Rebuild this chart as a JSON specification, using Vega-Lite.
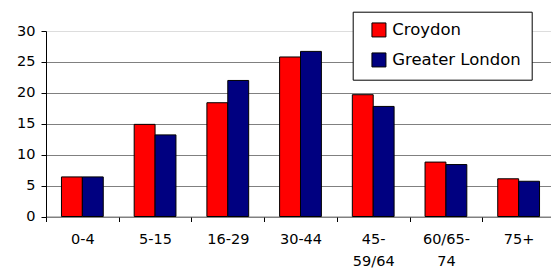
{
  "$schema": "https://vega.github.io/schema/vega-lite/v6.json",
  "autosize": {"type": "none"},
  "padding": {"left": 46, "top": 31, "right": 0, "bottom": 55},
  "width": 509,
  "height": 185.5,
  "background": "white",
  "config": {
    "font": "DejaVu Sans",
    "view": {"stroke": null}
  },
  "data": {
    "values": [
      {"age": "0-4", "area": "Croydon", "pct": 6.4},
      {"age": "0-4", "area": "Greater London", "pct": 6.4},
      {"age": "5-15", "area": "Croydon", "pct": 14.9},
      {"age": "5-15", "area": "Greater London", "pct": 13.2},
      {"age": "16-29", "area": "Croydon", "pct": 18.4},
      {"age": "16-29", "area": "Greater London", "pct": 22.0},
      {"age": "30-44", "area": "Croydon", "pct": 25.8},
      {"age": "30-44", "area": "Greater London", "pct": 26.7},
      {"age": "45-59/64", "area": "Croydon", "pct": 19.7},
      {"age": "45-59/64", "area": "Greater London", "pct": 17.8},
      {"age": "60/65-74", "area": "Croydon", "pct": 8.8},
      {"age": "60/65-74", "area": "Greater London", "pct": 8.4},
      {"age": "75+", "area": "Croydon", "pct": 6.1},
      {"age": "75+", "area": "Greater London", "pct": 5.7}
    ]
  },
  "mark": {"type": "bar", "stroke": "black", "strokeWidth": 1},
  "encoding": {
    "x": {
      "field": "age",
      "type": "nominal",
      "sort": ["0-4", "5-15", "16-29", "30-44", "45-59/64", "60/65-74", "75+"],
      "scale": {"paddingInner": 0, "paddingOuter": 0},
      "axis": {
        "title": null,
        "labelAngle": 0,
        "tickBand": "extent",
        "tickSize": 5,
        "tickColor": "black",
        "domainColor": "#808080",
        "labelFontSize": 14.5,
        "labelColor": "black",
        "labelPadding": 11,
        "labelLineHeight": 22,
        "labelBaseline": "top",
        "labelExpr": "datum.value == '45-59/64' ? ['45-', '59/64'] : datum.value == '60/65-74' ? ['60/65-', '74'] : datum.label"
      }
    },
    "xOffset": {
      "field": "area",
      "sort": ["Croydon", "Greater London"],
      "scale": {"paddingInner": 0, "paddingOuter": 0.74}
    },
    "y": {
      "field": "pct",
      "type": "quantitative",
      "scale": {"domain": [0, 30], "nice": false},
      "axis": {
        "title": null,
        "values": [0, 5, 10, 15, 20, 25, 30],
        "tickSize": 5,
        "tickColor": "black",
        "domainColor": "black",
        "labelFontSize": 14.5,
        "labelColor": "black",
        "labelPadding": 6,
        "grid": true,
        "gridColor": {"condition": {"test": "datum.value == 30", "value": "#dddddd"}, "value": "#808080"},
        "gridWidth": 1
      }
    },
    "color": {
      "field": "area",
      "type": "nominal",
      "sort": ["Croydon", "Greater London"],
      "scale": {"domain": ["Croydon", "Greater London"], "range": ["#ff0000", "#000080"]},
      "legend": {
        "title": null,
        "orient": "none",
        "legendX": 306.7,
        "legendY": -19.3,
        "padding": 10,
        "strokeColor": "black",
        "fillColor": "white",
        "symbolType": "square",
        "symbolSize": 196,
        "symbolStrokeColor": "black",
        "symbolStrokeWidth": 1,
        "symbolOffset": 8,
        "labelFontSize": 16.5,
        "labelColor": "black",
        "labelOffset": 5,
        "rowPadding": 11,
        "labelLimit": 300
      }
    }
  }
}
